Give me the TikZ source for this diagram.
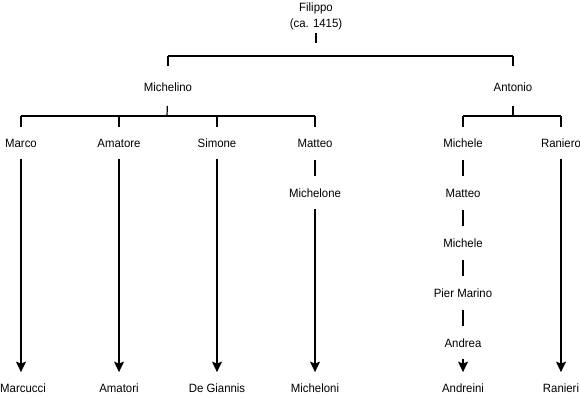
\documentclass[tikz,border=0pt]{standalone}
\usepackage{fontspec}
\setmainfont{Liberation Sans}[FakeStretch=0.95]
\usetikzlibrary{arrows.meta}

\begin{document}
\begin{tikzpicture}[x=1pt, y=-1pt, line width=1.2pt,
    >={Stealth[length=10.5pt, width=10pt, inset=2pt]},
    kin/.style={inner sep=0pt, font=\fontsize{12}{16.5}\selectfont},
    one/.style={kin, text height=8.6pt, text depth=0pt},
    link/.style={shorten <=12pt, shorten >=12pt},
    descent/.style={->, shorten <=11pt, shorten >=11pt}]
    \useasboundingbox (0,0) rectangle (580,401);
    % Filippo and his two sons
    \node[kin, align=center] (fil) at (316,16.5) {Filippo\\(ca. 1415)};
    \node[one] (mln) at (168,87) {Michelino};
    \node[one] (ant) at (513,87) {Antonio};
    \coordinate (jf) at (316,56);
    \draw[shorten <=2pt, shorten >=13pt] (fil) -- (jf);
    \draw (mln |- jf) -- (ant |- jf);
    \foreach \n in {mln, ant}
        \draw[shorten >=16pt] (\n |- jf) -- (\n);
    % next generation
    \node[one] (mar) at (21,143) {Marco};
    \node[one] (ama) at (119,143) {Amatore};
    \node[one] (sim) at (217,143) {Simone};
    \node[one] (mat) at (315,143) {Matteo};
    \node[one] (mic) at (463,143) {Michele};
    \node[one] (ran) at (561,143) {Raniero};
    \coordinate (jm) at (167,116);
    \coordinate (ja) at (513,116);
    \draw[shorten <=14pt] (mln) -- (jm);
    \draw[shorten <=14pt] (ant) -- (ja);
    \draw (mar |- jm) -- (mat |- jm);
    \draw (mic |- ja) -- (ran |- ja);
    \foreach \n in {mar, ama, sim, mat}
        \draw[shorten >=11pt] (\n |- jm) -- (\n);
    \foreach \n in {mic, ran}
        \draw[shorten >=11pt] (\n |- ja) -- (\n);
    % lines of descent
    \node[one] (mlo) at (315,193) {Michelone};
    \node[one] (mat2) at (463,193) {Matteo};
    \node[one] (mic2) at (463,243) {Michele};
    \node[one] (pma) at (463,293) {Pier Marino};
    \node[one] (and) at (463,343) {Andrea};
    \draw[link] (mat) -- (mlo);
    \draw[link] (mic) -- (mat2);
    \draw[link] (mat2) -- (mic2);
    \draw[link] (mic2) -- (pma);
    \draw[link] (pma) -- (and);
    % family names
    \node[one] (fmar) at (23,388) {Marcucci};
    \node[one] (fama) at (119,388) {Amatori};
    \node[one] (fsim) at (217,388) {De Giannis};
    \node[one] (fmlo) at (315,388) {Micheloni};
    \node[one] (fand) at (463,388) {Andreini};
    \node[one] (fran) at (561,388) {Ranieri};
    \draw[descent] (mar) -- (mar |- fmar.north);
    \draw[descent] (ama) -- (fama);
    \draw[descent] (sim) -- (fsim);
    \draw[descent] (mlo) -- (fmlo);
    \draw[descent] (and) -- (fand);
    \draw[descent] (ran) -- (fran);
\end{tikzpicture}
\end{document}
